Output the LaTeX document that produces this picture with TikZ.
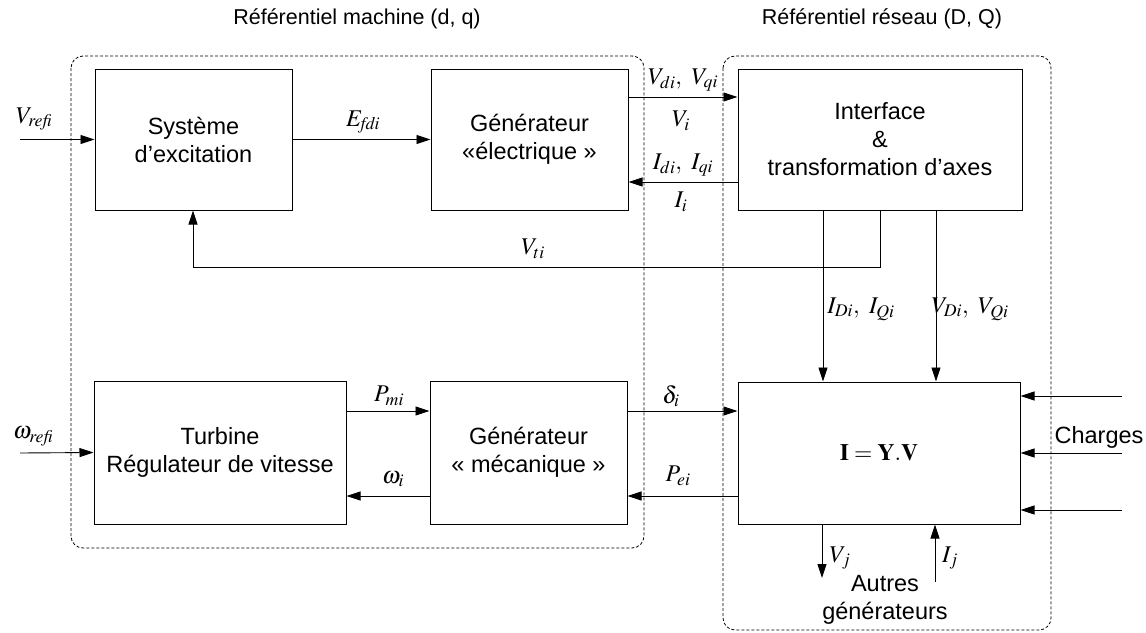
\documentclass[tikz,border=0pt]{standalone}
\usepackage{mathptmx}
\usepackage[no-math]{fontspec}
\setmainfont{Liberation Sans}
\usetikzlibrary{arrows.meta}
\tikzset{
 blk/.style={draw, line width=1pt, align=center, font=\fontsize{23.5}{28}\selectfont, inner sep=0pt},
 arr/.style={-{Triangle[length=14pt,width=9pt]}, line width=0.9pt},
 region/.style={draw, dash pattern=on 3pt off 2pt, rounded corners=12pt, line width=0.8pt},
 lab/.style={font=\fontsize{24}{28}\selectfont, inner sep=0pt},
 ttl/.style={font=\fontsize{21.5}{26}\selectfont, inner sep=0pt},
}
\begin{document}
\begin{tikzpicture}[x=1pt,y=-1pt]
\useasboundingbox (0,0) rectangle (1146,632);
% regions
\draw[region] (71,56) rectangle (644,548);
\draw[region] (723,56) rectangle (1051,630);
\node[ttl] (t1) at (357,19) {Référentiel machine (d, q)};
\node[ttl] (t2) at (882,19) {Référentiel réseau (D, Q)};
% blocks
\node[blk, minimum width=197pt, minimum height=141pt] (exc) at (193.5,139.5) {Système\\d’excitation};
\node[blk, minimum width=197pt, minimum height=141pt] (gel) at (529.5,139.5) {Générateur\\«électrique »};
\node[blk, minimum width=284pt, minimum height=141pt] (itf) at (880,139.5) {Interface\\\&\\transformation d’axes};
\node[blk, minimum width=252pt, minimum height=143pt] (tur) at (220,452.5) {Turbine\\Régulateur de vitesse};
\node[blk, minimum width=197pt, minimum height=143pt] (gme) at (528.5,452.5) {Générateur\\« mécanique »};
\node[blk, minimum width=282pt, minimum height=142pt] (yb) at (879,453) {$\mathbf{I}=\mathbf{Y.V}$};
% free ends
\coordinate (vin) at (20,139.5);
\coordinate (win) at (20,453);
\coordinate (c1) at (1122,396);
\coordinate (c2) at (1122,453);
\coordinate (c3) at (1122,510);
\coordinate (vj) at (822,578);
\coordinate (ij) at (935,582);
% connectors
\draw[arr] (vin) -- (exc.west);
\draw[arr] (exc.east) -- (gel.west);
\draw[arr] (gel.east |- 0,97) -- (itf.west |- 0,97);
\draw[arr] (itf.west |- 0,182) -- (gel.east |- 0,182);
\draw[arr] (itf.south -| 880,0) |- (193,267) -- (exc.south -| 193,0);
\draw[arr] (itf.south -| 823,0) -- (yb.north -| 823,0);
\draw[arr] (itf.south -| 936,0) -- (yb.north -| 936,0);
\draw[arr] (win) -- (tur.west);
\draw[arr] (tur.east |- 0,411) -- (gme.west |- 0,411);
\draw[arr] (gme.west |- 0,496) -- (tur.east |- 0,496);
\draw[arr] (gme.east |- 0,411) -- (yb.west |- 0,411);
\draw[arr] (yb.west |- 0,496) -- (gme.east |- 0,496);
\draw[arr] (c1) -- (yb.east |- c1);
\draw[arr] (c2) -- (yb.east |- c2);
\draw[arr] (c3) -- (yb.east |- c3);
\draw[arr] (yb.south -| vj) -- (vj);
\draw[arr] (ij) -- (yb.south -| ij);
% labels
\node[lab] (lvref) at (34,119) {$V_{\mathit{refi}}$};
\node[lab] (lefd) at (363,122) {$E_{\mathit{fdi}}$};
\node[lab] (lvdq) at (683,80) {$V_{di},\ V_{qi}$};
\node[lab] (lvi) at (681,121) {$V_{i}$};
\node[lab] (lidq) at (683,165) {$I_{di},\ I_{qi}$};
\node[lab] (lii) at (681,202) {$I_{i}$};
\node[lab] (lvt) at (533,249) {$V_{ti}$};
\node[lab] (lIDQ) at (861,309) {$I_{Di},\ I_{Qi}$};
\node[lab] (lVDQ) at (970,309) {$V_{Di},\ V_{Qi}$};
\node[lab] (lwref) at (33,436) {$\omega_{\mathit{refi}}$};
\node[lab] (lpm) at (389,396) {$P_{\mathit{mi}}$};
\node[lab] (lw) at (393,479) {$\omega_{i}$};
\node[lab] (ld) at (671,396) {$\delta_{i}$};
\node[lab] (lpe) at (678,476) {$P_{\mathit{ei}}$};
\node[lab] (lvj) at (840,558) {$V_{j}$};
\node[lab] (lij) at (950,558) {$I_{j}$};
\node[blk, draw=none] (aut) at (885,600) {Autres\\générateurs};
\node[blk, draw=none] (chg) at (1099,437) {Charges};
\end{tikzpicture}
\end{document}
